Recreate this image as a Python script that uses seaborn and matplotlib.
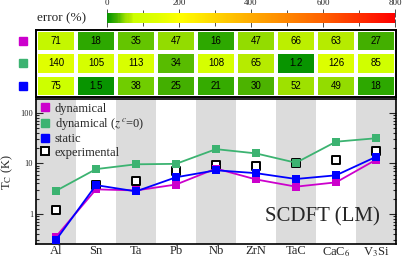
import numpy as np
import pandas as pd
import matplotlib
matplotlib.use("Agg")
import matplotlib.pyplot as plt
import seaborn as sns
from matplotlib.colors import LinearSegmentedColormap, Normalize
from matplotlib.cm import ScalarMappable
from matplotlib.lines import Line2D
from matplotlib.transforms import blended_transform_factory
from matplotlib.ticker import FuncFormatter, LogLocator, NullFormatter

# ---------------- data ----------------
materials = ["Al", "Sn", "Ta", "Pb", "Nb", "ZrN", "TaC", "CaC$_6$", "V$_3$Si"]
err_dyn = [71, 18, 35, 47, 16, 47, 66, 63, 27]
err_dyn0 = [140, 105, 113, 34, 108, 65, 1.2, 126, 85]
err_static = [75, 1.5, 38, 25, 21, 30, 52, 49, 18]

tc_exp = [1.18, 3.72, 4.48, 7.2, 9.25, 9.0, 10.2, 11.6, 17.4]
tc_dyn = [0.35, 3.05, 2.9, 3.8, 7.9, 4.8, 3.45, 4.2, 11.8]
tc_dyn0 = [2.85, 7.7, 9.6, 9.8, 19.2, 15.8, 10.3, 27.0, 31.6]
tc_static = [0.30, 3.7, 2.78, 5.3, 7.3, 6.4, 4.9, 5.8, 13.5]

c_dyn = "#cc00cc"
c_dyn0 = "#3cb371"
c_static = "#0000ff"

sns.set_theme(style="white")
plt.rcParams["font.family"] = ["Liberation Serif", "DejaVu Serif"]
plt.rcParams["mathtext.fontset"] = "stix"

fig = plt.figure(figsize=(4.03, 2.60), dpi=100)

# colormap (green -> yellow -> orange -> red)
nodes = [(0.0, (0.03, 0.58, 0.0)),
         (18 / 800, (0.2, 0.67, 0.0)),
         (27 / 800, (0.28, 0.69, 0.0)),
         (37 / 800, (0.43, 0.8, 0.0)),
         (50 / 800, (0.62, 0.88, 0.0)),
         (65 / 800, (0.73, 0.93, 0.0)),
         (72 / 800, (0.8, 1.0, 0.0)),
         (140 / 800, (0.88, 1.0, 0.0)),
         (200 / 800, (1.0, 1.0, 0.0)),
         (400 / 800, (1.0, 0.67, 0.0)),
         (600 / 800, (1.0, 0.38, 0.0)),
         (1.0, (1.0, 0.0, 0.0))]
cmap = LinearSegmentedColormap.from_list("err", nodes)
norm = Normalize(0, 800)

# ---------------- colorbar ----------------
ax_cb = fig.add_axes([0.266, 0.9115, 0.714, 0.0385])
cb = fig.colorbar(ScalarMappable(norm=norm, cmap=cmap), cax=ax_cb, orientation="horizontal")
cb.outline.set_visible(False)
cb.set_ticks([0, 200, 400, 600, 800])
ax_cb.xaxis.set_minor_locator(matplotlib.ticker.MultipleLocator(100))
ax_cb.tick_params(axis="x", which="both", top=True, bottom=True, labeltop=True,
                  labelbottom=False, direction="inout", length=6, width=0.6,
                  labelsize=6.5, pad=1, color="#333333")
ax_cb.tick_params(axis="x", which="minor", length=5)
fig.text(0.092, 0.928, "error (%)", fontsize=9.5, va="center", ha="left")

# ---------------- heatmap ----------------
ax_hm = fig.add_axes([0.0893, 0.627, 0.8933, 0.2576])
err = pd.DataFrame([err_dyn, err_dyn0, err_static], columns=materials)
labels = np.array([[f"{v:g}" for v in row] for row in err.values])
sns.heatmap(err, ax=ax_hm, cmap=cmap, vmin=0, vmax=800, annot=labels, fmt="",
            cbar=False, linewidths=1.6, linecolor="white",
            xticklabels=False, yticklabels=False,
            annot_kws={"fontsize": 7, "color": "black", "family": "Liberation Sans"})
for s in ax_hm.spines.values():
    s.set_visible(True)
    s.set_color("black")
    s.set_linewidth(1.4)
tr = blended_transform_factory(ax_hm.transAxes, ax_hm.transData)
for i, c in enumerate([c_dyn, c_dyn0, c_static]):
    ax_hm.plot([-0.036], [i + 0.5], marker="s", color=c, markersize=5.5,
               transform=tr, clip_on=False, linestyle="none")

# ---------------- Tc plot ----------------
ax = fig.add_axes([0.0893, 0.0615, 0.8933, 0.5575])
x = np.arange(len(materials))
for i in range(0, len(materials), 2):
    ax.axvspan(i - 0.5, i + 0.5, color="#dcdcdc", lw=0, zorder=0)

df = pd.DataFrame({"x": x, "exp": tc_exp, "dyn": tc_dyn, "dyn0": tc_dyn0, "static": tc_static})
sns.scatterplot(data=df, x="x", y="exp", ax=ax, marker="s", s=38, facecolor="white",
                edgecolor="black", linewidth=1.4, zorder=2, legend=False)
for col, c in [("dyn0", c_dyn0), ("dyn", c_dyn), ("static", c_static)]:
    sns.lineplot(data=df, x="x", y=col, ax=ax, color=c, marker="s", markersize=6,
                 markeredgewidth=0, linewidth=1.3, zorder=3, legend=False)

ax.set_yscale("log")
ax.set_ylim(0.25, 190)
ax.set_xlim(-0.5, len(materials) - 0.5)
ax.set_xticks(x)
ax.set_xticklabels(materials, fontsize=9)
ax.tick_params(axis="x", length=0, pad=1)
ax.yaxis.set_major_locator(LogLocator(base=10, numticks=10))
ax.yaxis.set_minor_locator(LogLocator(base=10, subs=np.arange(2, 10), numticks=20))
ax.yaxis.set_major_formatter(FuncFormatter(lambda v, p: f"{v:g}"))
ax.yaxis.set_minor_formatter(NullFormatter())
ax.tick_params(axis="y", which="both", left=True, right=True, direction="in",
               labelsize=6, pad=2, width=0.8)
ax.tick_params(axis="y", which="major", length=5)
ax.tick_params(axis="y", which="minor", length=2.5)
ax.set_xlabel("")
ax.set_ylabel(r"T$_{\rm C}$ (K)", fontsize=9, labelpad=4)
for s in ax.spines.values():
    s.set_visible(True)
    s.set_color("black")
    s.set_linewidth(1.2)

handles = [Line2D([], [], marker="s", color=c_dyn, linestyle="none", markersize=6),
           Line2D([], [], marker="s", color=c_dyn0, linestyle="none", markersize=6),
           Line2D([], [], marker="s", color=c_static, linestyle="none", markersize=6),
           Line2D([], [], marker="s", markerfacecolor="white", markeredgecolor="black",
                  markeredgewidth=1.4, linestyle="none", markersize=6)]
ax.legend(handles, ["dynamical", r"dynamical ($z^{\,c}$=0)", "static", "experimental"],
          loc="upper left", frameon=False, fontsize=9, handlelength=0.8,
          handletextpad=0.4, labelspacing=0.1, borderaxespad=0.15, borderpad=0.15)

ax.text(0.955, 0.19, "SCDFT (LM)", transform=ax.transAxes, ha="right", va="center",
        fontsize=15)

fig.savefig("out.png", dpi=100)
